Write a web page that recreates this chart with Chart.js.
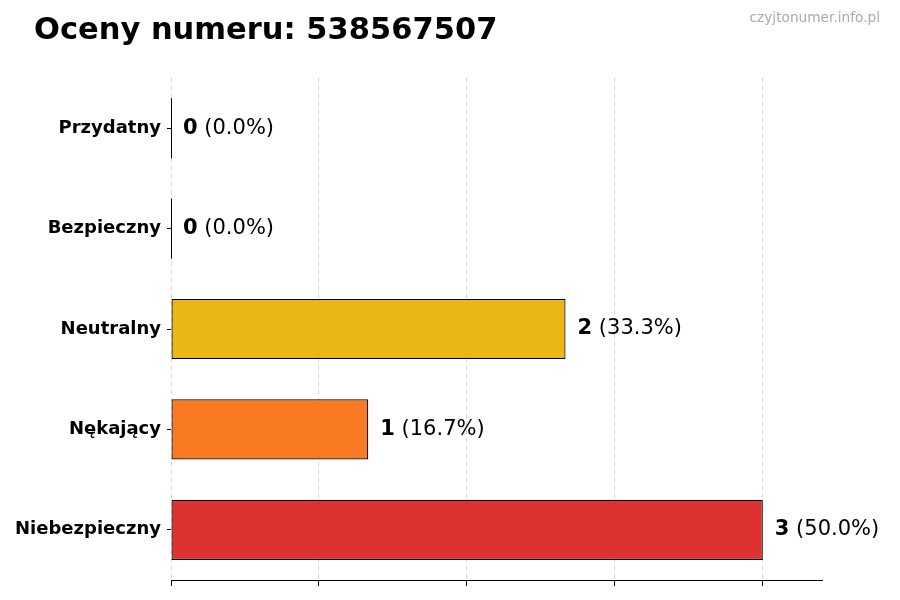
<!DOCTYPE html>
<html>
<head>
<meta charset="utf-8">
<script src="https://cdn.jsdelivr.net/npm/chart.js@4.4.0/dist/chart.umd.min.js"></script>
<style>
  html, body { margin: 0; padding: 0; background: #fff; }
  #wrap { width: 900px; height: 600px; position: relative; }
</style>
</head>
<body>
<div id="wrap"><canvas id="myChart" width="900" height="600"></canvas></div>
<script>
'use strict'
let categories = ['Przydatny', 'Bezpieczny', 'Neutralny', 'Nękający', 'Niebezpieczny'];
let counts = [0, 0, 2, 1, 3];
let barColors = ['rgba(34, 197, 94, 0.92)', 'rgba(59, 130, 246, 0.92)', 'rgba(234, 179, 8, 0.95)', 'rgba(249, 115, 22, 0.95)', 'rgba(220, 38, 38, 0.95)'];
let xTicks = [0, 0.75, 1.5, 2.25, 3];
let titleText = 'Oceny numeru: 538567507';
let siteText = 'czyjtonumer.info.pl';
let fontName = "'DejaVu Sans', sans-serif";

let total = counts.reduce((a, b) => a + b, 0);

// title, watermark and value labels
let extrasPlugin = {
    id: 'extras',
    afterDatasetsDraw(chart) {
        let ctx = chart.ctx;
        let meta = chart.getDatasetMeta(0);
        ctx.save();
        ctx.textBaseline = 'middle';
        for (let i = 0; i < meta.data.length; i++) {
            let bar = meta.data[i];
            // zero bars still show their edge line
            if (counts[i] === 0) {
                ctx.strokeStyle = '#000';
                ctx.lineWidth = 1;
                ctx.beginPath();
                ctx.moveTo(Math.round(bar.base) + 0.5, bar.y - bar.height / 2);
                ctx.lineTo(Math.round(bar.base) + 0.5, bar.y + bar.height / 2);
                ctx.stroke();
            }
            let x = bar.x + 12;
            let y = bar.y;
            let pct = total ? (counts[i] / total * 100).toFixed(1) : '0.0';
            ctx.fillStyle = '#000';
            ctx.font = 'bold 21px ' + fontName;
            ctx.textAlign = 'left';
            let num = String(counts[i]);
            ctx.fillText(num, x, y);
            let w = ctx.measureText(num).width;
            ctx.font = '21px ' + fontName;
            ctx.fillText(' (' + pct + '%)', x + w, y);
        }
        ctx.restore();
    },
    afterDraw(chart) {
        let ctx = chart.ctx;
        ctx.save();
        ctx.fillStyle = '#000';
        ctx.font = 'bold 30.5px ' + fontName;
        ctx.textAlign = 'left';
        ctx.textBaseline = 'middle';
        ctx.fillText(titleText, 34, 31);
        ctx.fillStyle = '#aaaaaa';
        ctx.font = '13.7px ' + fontName;
        ctx.textAlign = 'right';
        ctx.fillText(siteText, 880, 18);
        ctx.restore();
    }
};

var ctx = document.getElementById('myChart').getContext('2d');
var myChart = new Chart(ctx, {
    type: 'bar',
    data: {
        labels: categories,
        datasets: [{
            data: counts,
            backgroundColor: barColors,
            borderColor: '#000',
            borderWidth: 1.2,
            borderSkipped: false,
            barPercentage: 0.6,
            categoryPercentage: 1.0
        }]
    },
    options: {
        indexAxis: 'y',
        responsive: false,
        animation: false,
        devicePixelRatio: 1,
        layout: {
            padding: { top: 78, right: 78, bottom: 0, left: 0 }
        },
        plugins: {
            legend: { display: false },
            tooltip: { enabled: false }
        },
        scales: {
            x: {
                min: 0,
                max: 3.3,
                afterBuildTicks(scale) {
                    scale.ticks = xTicks.map(v => ({ value: v }));
                },
                afterFit(scale) {
                    scale.height = 20;
                },
                ticks: {
                    callback: () => '',
                    padding: 0
                },
                grid: {
                    color: '#d4d4d4',
                    lineWidth: 1,
                    drawTicks: true,
                    tickLength: 6,
                    tickColor: '#000',
                    tickBorderDash: []
                },
                border: {
                    display: true,
                    color: '#000',
                    width: 1,
                    dash: [4, 4]
                }
            },
            y: {
                afterFit(scale) {
                    scale.width = 171;
                },
                ticks: {
                    color: '#000',
                    padding: 6,
                    font: { family: fontName, size: 18, weight: 'bold' }
                },
                grid: {
                    offset: false,
                    drawOnChartArea: false,
                    drawTicks: true,
                    tickLength: 4,
                    tickColor: '#000'
                },
                border: { display: false }
            }
        }
    },
    plugins: [extrasPlugin]
});
</script>
</body>
</html>
